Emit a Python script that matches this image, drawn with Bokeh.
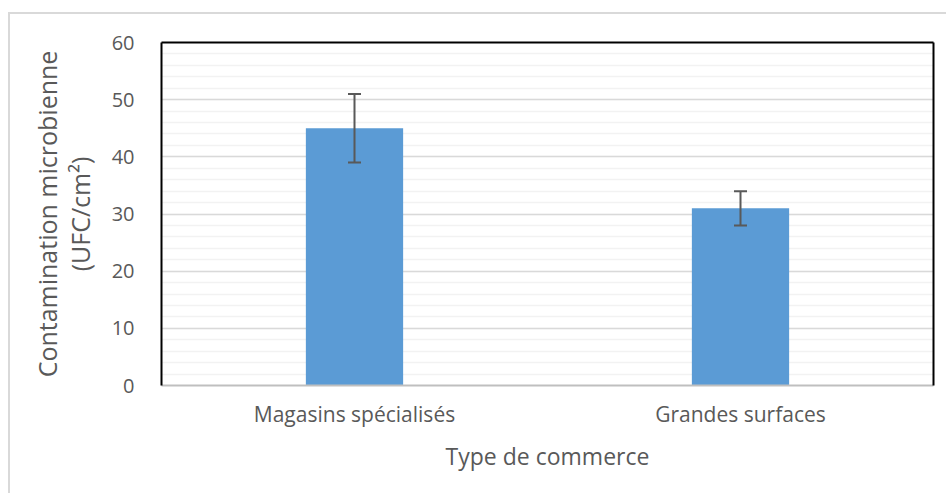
from bokeh.plotting import figure
from bokeh.models import (ColumnDataSource, FactorRange, Range1d, LinearAxis, SingleIntervalTicker,
                          Whisker, TeeHead)
from bokeh.embed import file_html
from bokeh.resources import INLINE

categories = ["Magasins spécialisés", "Grandes surfaces"]
values = [45, 31]
errors = [6, 3]
y_ticks = [0, 10, 20, 30, 40, 50, 60]

FONT = "Open Sans"
TXT = "#595959"

lower = [v - e for v, e in zip(values, errors)]
upper = [v + e for v, e in zip(values, errors)]
src = ColumnDataSource(dict(cat=categories, val=values, lo=lower, hi=upper))

p = figure(width=938, height=481, x_range=FactorRange(*categories), y_range=Range1d(0, 60),
           output_backend="svg", toolbar_location=None,
           min_border_left=151, min_border_right=15, min_border_top=28, min_border_bottom=110)
p.outline_line_color = None
p.background_fill_color = "white"
p.border_fill_color = "white"
p.styles = {"margin-left": "8px", "margin-top": "12px",
            "border-left": "2px solid #d9d9d9", "border-top": "2px solid #d9d9d9"}

p.vbar(x="cat", top="val", width=0.252, source=src, color="#5b9bd5", line_color=None)

w = Whisker(base="cat", lower="lo", upper="hi", source=src, line_color="#595959", line_width=2,
            level="overlay",
            upper_head=TeeHead(size=13, line_color="#595959", line_width=2),
            lower_head=TeeHead(size=13, line_color="#595959", line_width=2))
p.add_layout(w)

# grid
p.xgrid.grid_line_color = None
p.ygrid.ticker = SingleIntervalTicker(interval=10, num_minor_ticks=5)
p.ygrid.grid_line_color = "#d9d9d9"
p.ygrid.grid_line_width = 1.5
p.ygrid.minor_grid_line_color = "#f2f2f2"
p.ygrid.minor_grid_line_width = 1.5

# y axis
ya = p.yaxis[0]
ya.ticker = y_ticks
ya.axis_line_color = "black"
ya.axis_line_width = 2
ya.major_tick_line_color = None
ya.minor_tick_line_color = None
ya.major_label_standoff = 21
ya.major_label_text_font = FONT
ya.major_label_text_font_size = "20px"
ya.major_label_text_color = TXT
ya.axis_label = "Contamination microbienne\n(UFC/cm²)"
ya.axis_label_text_font = FONT
ya.axis_label_text_font_size = "25px"
ya.axis_label_text_font_style = "normal"
ya.axis_label_text_color = TXT
ya.axis_label_text_line_height = 0.95
ya.axis_label_standoff = 12

# x axis
xa = p.xaxis[0]
xa.axis_line_color = "#bfbfbf"
xa.axis_line_width = 2
xa.major_tick_line_color = None
xa.minor_tick_line_color = None
xa.major_label_standoff = 8
xa.major_label_text_font = FONT
xa.major_label_text_font_size = "21px"
xa.major_label_text_color = TXT
xa.axis_label = "Type de commerce"
xa.axis_label_text_font = FONT
xa.axis_label_text_font_size = "23px"
xa.axis_label_text_font_style = "normal"
xa.axis_label_text_color = TXT
xa.axis_label_standoff = 9

# frame top/right lines
for loc in ("right", "above"):
    ax = LinearAxis(axis_line_color="black", axis_line_width=2, major_tick_line_color=None,
                    minor_tick_line_color=None, major_label_text_font_size="0px",
                    major_label_text_alpha=0)
    ax.ticker = []
    p.add_layout(ax, loc)

open("out.html", "w").write(file_html(p, INLINE))
